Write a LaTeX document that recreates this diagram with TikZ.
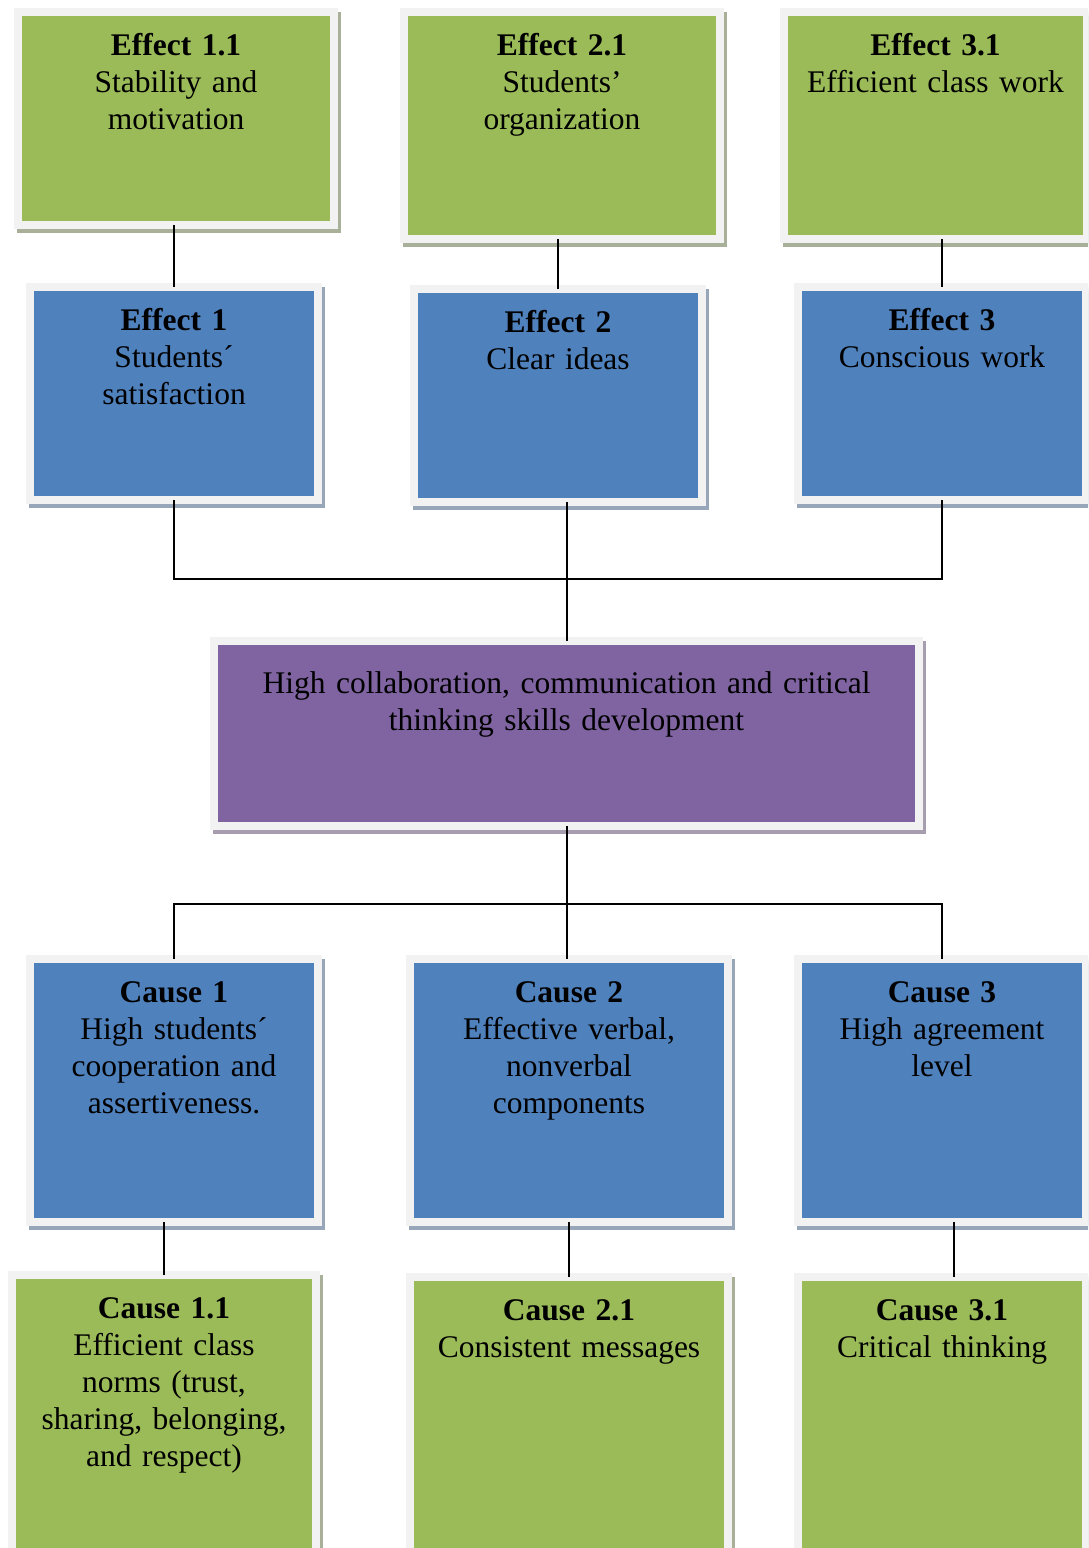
\documentclass[tikz,border=0pt]{standalone}
\usepackage{fontspec}
\setmainfont{Liberation Serif}
\definecolor{leafgreen}{HTML}{9BBB59}
\definecolor{skyblue}{HTML}{4F81BD}
\definecolor{plum}{HTML}{8064A2}
\definecolor{rim}{HTML}{F2F2F2}
\definecolor{greenshade}{HTML}{A9B09A}
\definecolor{blueshade}{HTML}{98A6BA}
\definecolor{plumshade}{HTML}{A69EAF}
\tikzset{
  panel/.style={draw=rim, line width=8pt, anchor=north west, inner xsep=4pt, inner ysep=0pt,
    outer sep=0pt, align=center, text height=43pt, font=\fontsize{31.5}{37}\selectfont},
  greenbox/.style={panel, fill=leafgreen,
    preaction={draw=greenshade, fill=greenshade, transform canvas={xshift=2.5pt, yshift=-4pt}}},
  bluebox/.style={panel, fill=skyblue,
    preaction={draw=blueshade, fill=blueshade, transform canvas={xshift=2.5pt, yshift=-4pt}}},
  plumbox/.style={panel, fill=plum, text height=52pt,
    preaction={draw=plumshade, fill=plumshade, transform canvas={xshift=2.5pt, yshift=-4pt}}},
  link/.style={line width=2pt, black}
}
\begin{document}
\begin{tikzpicture}[x=1pt,y=-1pt]
  \useasboundingbox (0,0) rectangle (1088,1548);
  \clip (0,0) rectangle (1088,1548);

  \node[greenbox, text width=308pt, text depth=170pt] (eff11) at (18,12) {\textbf{Effect 1.1}\\Stability and\\motivation};
  \node[greenbox, text width=308pt, text depth=184pt] (eff21) at (404,12) {\textbf{Effect 2.1}\\Students’\\organization};
  \node[greenbox, text width=295pt, text depth=184pt] (eff31) at (784,12) {\textbf{Effect 3.1}\\Efficient class work};

  \node[bluebox, text width=280pt, text depth=170pt] (eff1) at (30,287) {\textbf{Effect 1}\\Students´\\satisfaction};
  \node[bluebox, text width=280pt, text depth=170pt] (eff2) at (414,289) {\textbf{Effect 2}\\Clear ideas};
  \node[bluebox, text width=280pt, text depth=170pt] (eff3) at (798,287) {\textbf{Effect 3}\\Conscious work};

  \node[plumbox, text width=697pt, text depth=133pt] (skills) at (214,641) {High collaboration, communication and critical\\thinking skills development};

  \node[bluebox, text width=280pt, text depth=220pt] (cause1) at (30,959) {\textbf{Cause 1}\\High students´\\cooperation and\\assertiveness.};
  \node[bluebox, text width=310pt, text depth=220pt] (cause2) at (410,959) {\textbf{Cause 2}\\Effective verbal,\\nonverbal\\components};
  \node[bluebox, text width=280pt, text depth=220pt] (cause3) at (798,959) {\textbf{Cause 3}\\High agreement\\level};

  \node[greenbox, text width=296pt, text depth=245pt] (cause11) at (12,1275) {\textbf{Cause 1.1}\\Efficient class\\norms (trust,\\sharing, belonging,\\and respect)};
  \node[greenbox, text width=310pt, text depth=245pt] (cause21) at (410,1277) {\textbf{Cause 2.1}\\Consistent messages};
  \node[greenbox, text width=280pt, text depth=245pt] (cause31) at (798,1277) {\textbf{Cause 3.1}\\Critical thinking};

  \draw[link] (eff1.north) -- (eff1.north |- eff11.south);
  \draw[link] (eff2.north) -- (eff2.north |- eff21.south);
  \draw[link] (eff3.north) -- (eff3.north |- eff31.south);

  \coordinate (upjoin) at (skills.north |- 0,579);
  \draw[link] (eff1.south) |- (upjoin) -| (eff3.south);
  \draw[link] (skills.north) -- (skills.north |- eff2.south);

  \coordinate (downjoin) at (skills.south |- 0,904);
  \draw[link] (skills.south) -- (skills.south |- cause2.north);
  \draw[link] (cause1.north) |- (downjoin) -| (cause3.north);

  \draw[link] (cause11.north) -- (cause11.north |- cause1.south);
  \draw[link] (cause21.north) -- (cause21.north |- cause2.south);
  \draw[link] ([xshift=12pt]cause31.north) -- ([xshift=12pt]cause31.north |- cause3.south);
\end{tikzpicture}
\end{document}
